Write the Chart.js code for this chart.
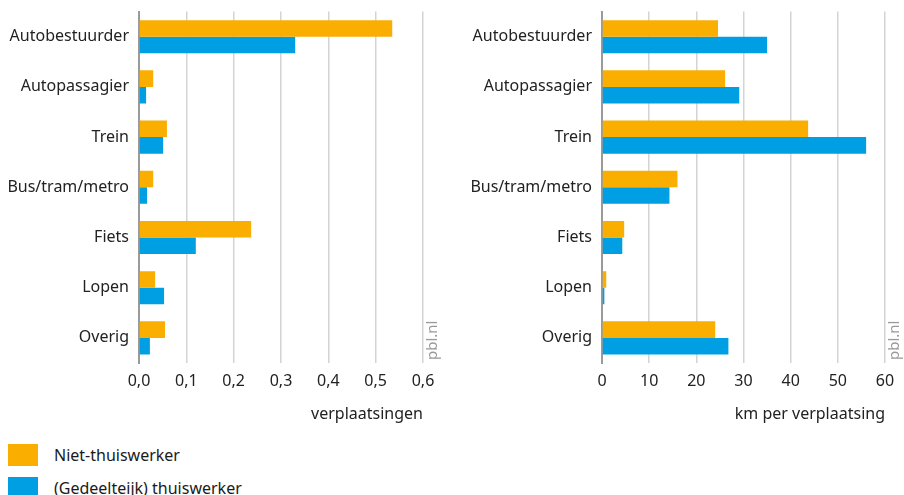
<!DOCTYPE html>
<html>
<head>
<meta charset="utf-8">
<script src="https://cdn.jsdelivr.net/npm/chart.js@4"></script>
<style>
  body { margin: 0; background: #fff; font-family: "Noto Sans", sans-serif; }
  #wrap { position: relative; width: 904px; height: 495px; overflow: hidden; }
  .box { position: absolute; }
  #left { left: 0; top: 0; width: 450px; height: 430px; }
  #right { left: 460px; top: 0; width: 444px; height: 430px; }
  .leg { position: absolute; left: 8px; font-size: 16px; color: #1a1a1a; }
  .leg span.sw { position: absolute; left: 0; width: 30px; height: 22px; }
  .leg span.tx { position: absolute; left: 46px; top: 0; line-height: 22px; white-space: nowrap; }
</style>
</head>
<body>
<div id="wrap">
  <div class="box" id="left"><canvas id="chartLeft"></canvas></div>
  <div class="box" id="right"><canvas id="chartRight"></canvas></div>
  <div class="leg" style="top:444px"><span class="sw" style="background:#f9ae00"></span><span class="tx">Niet-thuiswerker</span></div>
  <div class="leg" style="top:477px"><span class="sw" style="background:#009fe3"></span><span class="tx">(Gedeelteijk) thuiswerker</span></div>
</div>
<script>
const categories = ['Autobestuurder', 'Autopassagier', 'Trein', 'Bus/tram/metro', 'Fiets', 'Lopen', 'Overig'];
const seriesNames = ['Niet-thuiswerker', '(Gedeelteijk) thuiswerker'];

// verplaatsingen
const tripsNiet = [0.535, 0.030, 0.059, 0.030, 0.237, 0.034, 0.055];
const tripsThuis = [0.330, 0.015, 0.051, 0.017, 0.120, 0.053, 0.023];

// km per verplaatsing
const kmNiet = [24.6, 26.1, 43.7, 16.0, 4.7, 0.9, 24.0];
const kmThuis = [35.0, 29.1, 56.0, 14.3, 4.3, 0.5, 26.8];

const leftTicks = [0, 0.1, 0.2, 0.3, 0.4, 0.5, 0.6];
const rightTicks = [0, 10, 20, 30, 40, 50, 60];

const orange = '#f9ae00';
const blue = '#009fe3';
const font = { family: '"Noto Sans", sans-serif', size: 16 };

const pblPlugin = {
    id: 'pbl',
    afterDraw(chart) {
        const ctx = chart.ctx;
        const a = chart.chartArea;
        ctx.save();
        ctx.translate(a.right + 10, a.bottom - 3);
        ctx.rotate(-Math.PI / 2);
        ctx.font = '15px "Noto Sans", sans-serif';
        ctx.fillStyle = '#9a9a9a';
        ctx.textAlign = 'left';
        ctx.textBaseline = 'middle';
        ctx.fillText('pbl.nl', 0, 0);
        ctx.restore();
    }
};

function makeChart(id, a, b, ticks, max, yWidth, padRight, title, fmt) {
    return new Chart(document.getElementById(id), {
        type: 'bar',
        data: {
            labels: categories,
            datasets: [
                { label: seriesNames[0], data: a, backgroundColor: orange },
                { label: seriesNames[1], data: b, backgroundColor: blue }
            ]
        },
        options: {
            indexAxis: 'y',
            responsive: true,
            maintainAspectRatio: false,
            animation: false,
            layout: { padding: { top: 7, right: padRight, left: 0, bottom: 0 } },
            datasets: { bar: { categoryPercentage: 0.66, barPercentage: 1 } },
            plugins: { legend: { display: false }, tooltip: { enabled: false } },
            scales: {
                x: {
                    min: 0,
                    max: max,
                    afterBuildTicks(scale) { scale.ticks = ticks.map(v => ({ value: v })); },
                    afterFit(scale) { scale.height = 67; },
                    grid: { color: '#d4d4d4', lineWidth: 1.5, drawTicks: false },
                    border: { display: false },
                    ticks: { font: font, color: '#222', padding: 9, callback: fmt },
                    title: { display: true, text: title, align: 'end', font: font, color: '#222', padding: { top: 0, bottom: 6 } }
                },
                y: {
                    afterFit(scale) { scale.width = yWidth; },
                    grid: { display: false },
                    border: { display: true, color: '#9a9a9a', width: 2 },
                    ticks: { font: font, color: '#222', padding: 2 }
                }
            }
        },
        plugins: [pblPlugin]
    });
}

makeChart('chartLeft', tripsNiet, tripsThuis, leftTicks, 0.6, 139, 27, 'verplaatsingen',
    v => v.toFixed(1).replace('.', ','));
makeChart('chartRight', kmNiet, kmThuis, rightTicks, 60, 142, 19, 'km per verplaatsing',
    v => String(v));
</script>
</body>
</html>
